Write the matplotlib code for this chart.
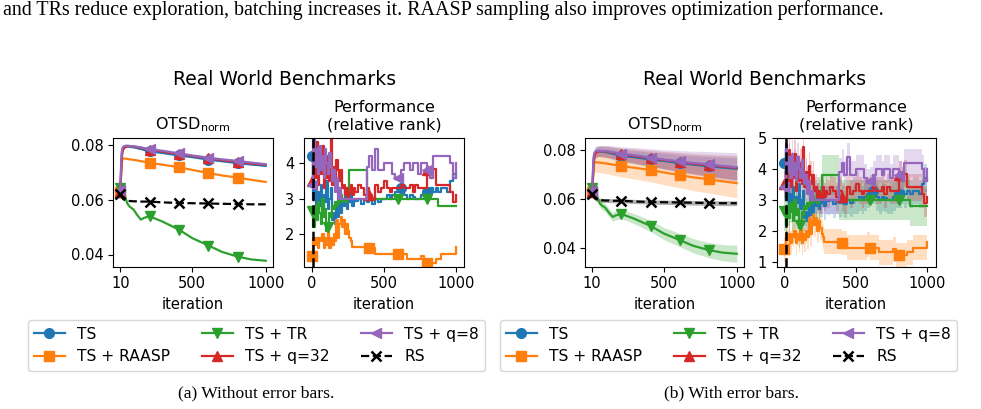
import matplotlib
matplotlib.use("Agg")
import matplotlib.pyplot as plt
import numpy as np

W, H = 981, 409

# ---------------- data ----------------
series_names = ["TS", "TS + RAASP", "TS + TR", "TS + q=32", "TS + q=8", "RS"]
series_colors = ["#1f77b4", "#ff7f0e", "#2ca02c", "#d62728", "#9467bd", "black"]
series_markers = ["o", "s", "v", "^", "<", "x"]

it_otsd = [10, 15, 20, 25, 30, 40, 50, 60, 75, 100, 125, 150, 175, 210, 300, 410, 500, 610, 700, 810, 900, 1000]
otsd_ts = [0.0632, 0.070, 0.0765, 0.0785, 0.079, 0.0795, 0.0796, 0.0796, 0.0795, 0.0793, 0.079, 0.0787, 0.0783, 0.0778,
           0.0772, 0.0763, 0.0757, 0.0748, 0.0742, 0.0735, 0.0730, 0.0725]
otsd_raasp = [0.0628, 0.068, 0.0735, 0.0748, 0.0752, 0.0752, 0.0751, 0.075, 0.0749, 0.0747, 0.0745, 0.0742, 0.074, 0.0736,
              0.0729, 0.072, 0.071, 0.0699, 0.069, 0.0682, 0.0674, 0.0666]
otsd_tr = [0.0645, 0.065, 0.0652, 0.065, 0.0645, 0.062, 0.060, 0.0585, 0.0575, 0.0565, 0.0545, 0.0528, 0.0535, 0.054,
           0.052, 0.0491, 0.046, 0.0433, 0.041, 0.0392, 0.0382, 0.0377]
otsd_q32 = [0.0628, 0.069, 0.075, 0.0775, 0.0785, 0.0792, 0.0795, 0.0797, 0.0797, 0.0796, 0.0794, 0.0791, 0.0788, 0.0784,
            0.0777, 0.0768, 0.0761, 0.0753, 0.0746, 0.0739, 0.0734, 0.0729]
otsd_q8 = [0.0635, 0.072, 0.0775, 0.079, 0.0795, 0.0798, 0.0799, 0.0799, 0.0798, 0.0797, 0.0795, 0.0793, 0.079, 0.0787,
           0.078, 0.0771, 0.0763, 0.0755, 0.0749, 0.0743, 0.0737, 0.0731]
otsd_rs = [0.0622, 0.0615, 0.061, 0.0606, 0.0603, 0.060, 0.0598, 0.0597, 0.0596, 0.0595, 0.0595, 0.0594, 0.0594, 0.0594,
           0.0591, 0.0589, 0.0588, 0.0587, 0.0586, 0.0585, 0.0584, 0.0584]
# half-width of error band (start value, end value)
otsd_err = {"TS": (0.002, 0.0045), "TS + RAASP": (0.004, 0.006), "TS + TR": (0.0015, 0.0035),
            "TS + q=32": (0.002, 0.005), "TS + q=8": (0.002, 0.006), "RS": (0.0008, 0.001)}

it_rank = list(range(0, 300, 10)) + list(range(300, 1001, 20))
rank_ts = [4.2, 3.0, 3.3, 2.6, 3.2, 2.8, 3.4, 2.5, 3.1, 2.9, 3.5, 2.7, 3.0, 3.3, 2.4, 2.6, 2.3, 2.9, 2.5, 3.2,
           2.6, 3.0, 2.8, 3.3, 2.7, 3.0, 2.9, 3.2, 2.8, 3.0,
           2.95, 3.0, 2.85, 3.0, 2.9, 3.0,
           2.85, 3.0, 2.9, 3.0, 3.0,
           3.1, 3.0, 3.1, 3.2, 3.35,
           3.3, 3.1, 3.0, 3.1, 3.05,
           3.0, 3.0, 3.1, 3.2, 3.2,
           3.3, 3.2, 3.3, 3.2, 3.3,
           3.3, 3.2, 3.5, 3.7, 3.6]
rank_raasp = [1.4, 1.9, 1.7, 1.9, 1.6, 1.9, 1.8, 2.0, 1.6, 1.9, 1.7, 2.1, 1.6, 1.9, 1.7, 2.0, 1.8, 2.4, 1.9, 2.3,
              2.5, 2.2, 2.4, 2.0, 2.3, 2.1, 1.9, 1.8, 1.65, 1.65,
              1.65, 1.65, 1.65, 1.65, 1.65, 1.6,
              1.6, 1.45, 1.45, 1.45, 1.45,
              1.45, 1.45, 1.45, 1.55, 1.45,
              1.45, 1.45, 1.3, 1.3, 1.3,
              1.3, 1.3, 1.4, 1.2, 1.2,
              1.2, 1.2, 1.3, 1.3, 1.45,
              1.45, 1.45, 1.45, 1.45, 1.65]
rank_tr = [2.65, 2.2, 2.8, 2.4, 2.9, 2.6, 2.3, 3.0, 2.5, 2.7, 2.1, 2.2, 2.6, 2.5, 2.8, 2.7, 2.9, 2.8, 3.0, 2.9,
           3.1, 2.95, 3.0, 2.9, 3.0, 3.1, 3.8, 3.8, 3.8, 3.8,
           3.8, 3.8, 3.8, 3.8, 3.0, 3.0,
           3.0, 3.0, 3.0, 3.0, 3.0,
           3.0, 3.0, 3.0, 3.0, 3.0,
           3.0, 3.0, 3.0, 3.0, 3.0,
           3.0, 3.0, 3.0, 3.0, 3.0,
           3.0, 3.0, 3.0, 2.8, 2.8,
           2.8, 2.8, 2.8, 2.8, 2.8]
rank_q32 = [3.5, 4.3, 3.6, 4.6, 3.4, 4.1, 3.7, 4.5, 3.3, 4.0, 3.6, 4.2, 3.5, 4.7, 3.4, 3.9, 3.6, 4.1, 3.8, 3.5,
            3.8, 3.3, 3.4, 3.1, 3.3, 3.0, 3.2, 3.4, 3.1, 3.3,
            3.2, 3.4, 3.3, 3.1, 3.3, 3.1,
            3.0, 3.4, 3.2, 3.3, 3.5,
            3.3, 3.2, 3.3, 3.3, 3.3,
            3.4, 3.3, 3.3, 3.4, 3.2,
            3.4, 3.3, 3.3, 3.3, 3.8,
            3.6, 3.85, 3.4, 3.4, 3.4,
            3.4, 3.4, 3.2, 2.9, 3.1]
rank_q8 = [3.4, 4.8, 3.9, 4.4, 3.7, 4.5, 3.8, 4.2, 3.6, 4.4, 4.0, 3.7, 4.3, 3.9, 3.5, 3.8, 3.2, 3.6, 3.0, 3.3,
           3.0, 3.0, 3.0, 3.0, 3.0, 3.0, 3.0, 3.0, 3.0, 3.0,
           3.0, 3.0, 3.0, 3.0, 3.9, 4.2,
           3.8, 4.4, 3.8, 3.8, 4.0,
           4.0, 4.0, 3.7, 3.55, 3.6,
           3.8, 4.0, 4.0, 3.8, 4.0,
           4.0, 3.7, 4.0, 4.0, 3.8,
           3.6, 4.2, 4.2, 4.2, 4.2,
           4.2, 4.2, 4.0, 3.6, 4.0]
rank_err = {"TS": 0.45, "TS + RAASP": 0.4, "TS + TR": 0.65, "TS + q=32": 0.45, "TS + q=8": 0.45}
# iterations at which the rank curves carry a marker
rank_marker_iters = {"TS": [0, 620, 800], "TS + RAASP": [0, 400, 600, 800], "TS + TR": [0, 110, 600, 800],
                     "TS + q=32": [0, 400, 800], "TS + q=8": [0, 600, 800]}
init_iter = 10

top_text = ("and TRs reduce exploration, batching increases it. RAASP sampling also improves "
            "optimization performance.")
suptitle = "Real World Benchmarks"
captions = ["(a) Without error bars.", "(b) With error bars."]

otsd_data = [otsd_ts, otsd_raasp, otsd_tr, otsd_q32, otsd_q8, otsd_rs]
rank_data = [rank_ts, rank_raasp, rank_tr, rank_q32, rank_q8]

# ---------------- figure ----------------
plt.rcParams["font.family"] = ["DejaVu Sans"]
plt.rcParams["mathtext.fontset"] = "dejavusans"
fig = plt.figure(figsize=(W / 100, H / 100), dpi=100)

TICK_FS = 10.5
TITLE_FS = 11.5
SERIF = ["Liberation Serif", "DejaVu Serif"]


def px_rect(x0, x1, y0, y1):
    return [x0 / W, 1 - y1 / H, (x1 - x0) / W, (y1 - y0) / H]


def otsd_axes(rect, with_err, ylim):
    ax = fig.add_axes(rect)
    x = np.array(it_otsd, dtype=float)
    mk_idx = [it_otsd.index(v) for v in (10, 210, 410, 610, 810)]
    for name, col, mk, vals in zip(series_names, series_colors, series_markers, otsd_data):
        y = np.array(vals)
        ls = "--" if name == "RS" else "-"
        mew = 1.8 if mk == "x" else 1.0
        ax.plot(x, y, ls=ls, color=col, marker=mk, markevery=mk_idx, ms=7, lw=1.6, mew=mew, label=name)
        if with_err:
            e0, e1 = otsd_err[name]
            frac = (x - x[0]) / (x[-1] - x[0])
            e = e0 + (e1 - e0) * frac
            ax.fill_between(x, y - e, y + e, color=col, alpha=0.25 if name != "RS" else 0.3, lw=0)
    ax.set_ylim(*ylim)
    ax.set_xticks([10, 500, 1000])
    ax.set_yticks([0.04, 0.06, 0.08])
    ax.set_yticklabels(["0.04", "0.06", "0.08"])
    ax.set_title(r"OTSD$_{\mathrm{norm}}$", fontsize=TITLE_FS)
    ax.set_xlabel("iteration", fontsize=TICK_FS)
    ax.tick_params(labelsize=TICK_FS)
    return ax


def rank_axes(rect, with_err, ylim, yticks):
    ax = fig.add_axes(rect)
    x = np.array(it_rank, dtype=float)
    for name, col, mk, vals in zip(series_names[:5], series_colors[:5], series_markers[:5], rank_data):
        y = np.array(vals)
        mk_idx = [it_rank.index(v) for v in rank_marker_iters[name]]
        ax.plot(x, y, color=col, marker=mk, markevery=mk_idx, ms=7, lw=1.6, drawstyle="steps-post", label=name)
        if with_err:
            e = rank_err[name]
            ax.fill_between(x, y - e, y + e, color=col, alpha=0.25, lw=0, step="post")
    ax.axvline(init_iter, color="black", ls="--", lw=1.8)
    ax.set_xlim(-56, 1058)
    ax.set_ylim(*ylim)
    ax.set_xticks([0, 500, 1000])
    ax.set_yticks(yticks)
    ax.set_title("Performance\n(relative rank)", fontsize=TITLE_FS)
    ax.set_xlabel("iteration", fontsize=TICK_FS)
    ax.tick_params(labelsize=TICK_FS)
    return ax


Y0, Y1 = 137.5, 266.5
a1 = otsd_axes(px_rect(113, 273, Y0, Y1), False, (0.0356, 0.0829))
a2 = rank_axes(px_rect(304, 464, Y0, Y1), False, (1.09, 4.73), [2, 3, 4])
a3 = otsd_axes(px_rect(585, 744, Y0, Y1), True, (0.0325, 0.0853))
a4 = rank_axes(px_rect(776.5, 935.5, Y0, Y1), True, (0.84, 5.02), [1, 2, 3, 4, 5])

for cx in (285, 755):
    fig.text(cx / W, 1 - 85 / H, suptitle, ha="center", va="baseline", fontsize=13.5)

handles, labels = a1.get_legend_handles_labels()
for cx in (256.5, 728.5):
    fig.legend(handles, labels, loc="center", bbox_to_anchor=(cx / W, 1 - 345.5 / H), ncol=3,
               fontsize=11.2, columnspacing=2.0)

fig.text(3 / W, 1 - 15 / H, top_text, ha="left", va="baseline", fontsize=14.4, family=SERIF)
for cx, cap in zip((256, 732), captions):
    fig.text(cx / W, 1 - 397 / H, cap, ha="center", va="baseline", fontsize=12.6, family=SERIF)

fig.savefig("out.png", dpi=100)
